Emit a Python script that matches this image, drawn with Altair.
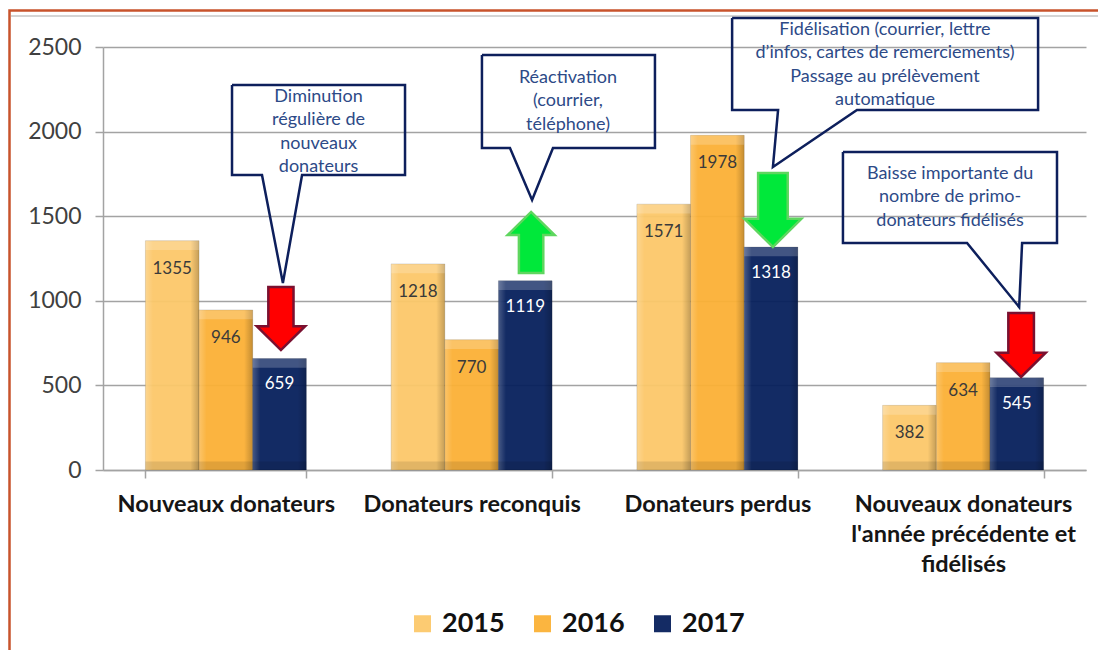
import altair as alt
import pandas as pd

FONT = "Lato"

categories = ["Nouveaux donateurs", "Donateurs reconquis", "Donateurs perdus",
              "Nouveaux donateurs|l'année précédente et|fidélisés"]
years = ["2015", "2016", "2017"]
v2015 = [1355, 1218, 1571, 382]
v2016 = [946, 770, 1978, 634]
v2017 = [659, 1119, 1318, 545]
year_colors = ["#fcc86a", "#fbb136", "#07205c"]

# callout annotations (x in category units 0..4, y in data units)
callout_texts = [
    "Diminution\nrégulière de\nnouveaux\ndonateurs",
    "Réactivation\n(courrier,\ntéléphone)",
    "Fidélisation (courrier, lettre\nd\u2019infos, cartes de remerciements)\nPassage au prélèvement\nautomatique",
    "Baisse importante du\nnombre de primo-\ndonateurs fidélisés",
]
text_u = [0.877, 1.892, 3.182, 3.447]
text_v = [2204, 2317, 2600, 1749]
box_x0 = [0.525, 1.542, 2.560, 3.011]
box_x1 = [1.229, 2.246, 3.805, 3.882]
box_top = [2275, 2453, 2671, 1879]
box_bot = [1743, 1903, 2128, 1342]
tail_l = [0.647, 1.656, 2.747, 3.516]
tail_r = [0.810, 1.831, 3.068, 3.740]
tip_u = [0.732, 1.746, 2.726, 3.728]
tip_v = [1105, 1596, 1791, 963]

arrow_u = [0.724, 1.742, 2.726, 3.736]
arrow_v = [895, 1345, 1537, 739]
arrow_dir = ["down", "up", "down", "down"]
arrow_h = [63, 61, 74, 64]
arrow_fill = ["#ff0000", "#00e83a", "#00e83a", "#ff0000"]
arrow_stroke = ["#7a1030", "#5fd65f", "#5fd65f", "#7a1030"]

# ---- tables ----
rows = []
for i, c in enumerate(categories):
    for y, vals in zip(years, [v2015, v2016, v2017]):
        rows.append({"cat": c, "year": y, "value": vals[i]})
df = pd.DataFrame(rows)

poly = []
for k in range(len(callout_texts)):
    pts = [(box_x0[k], box_top[k]), (box_x1[k], box_top[k]), (box_x1[k], box_bot[k]),
           (tail_r[k], box_bot[k]), (tip_u[k], tip_v[k]), (tail_l[k], box_bot[k]),
           (box_x0[k], box_bot[k]), (box_x0[k], box_top[k])]
    for j, (u, v) in enumerate(pts):
        poly.append({"id": k, "i": j, "u": u, "v": v})
poly_df = pd.DataFrame(poly)
txt_df = pd.DataFrame({"u": text_u, "v": text_v, "t": callout_texts})
arr_df = pd.DataFrame({"u": arrow_u, "v": arrow_v, "dir": arrow_dir,
                       "s": [h * h for h in arrow_h], "f": arrow_fill, "st": arrow_stroke})

DOWN = "M -0.4 -1 L 0.4 -1 L 0.4 0.24 L 0.77 0.24 L 0 1 L -0.77 0.24 L -0.4 0.24 Z"
UP = "M -0.4 1 L 0.4 1 L 0.4 -0.24 L 0.77 -0.24 L 0 -1 L -0.77 -0.24 L -0.4 -0.24 Z"

ydom = alt.Scale(domain=[0, 2500], nice=False)
grid_col = "#a3a3a3"
y_axis = alt.Axis(title=None, values=[0, 500, 1000, 1500, 2000, 2500], format="d",
                  labelFont=FONT, labelFontSize=23, labelColor="#404040",
                  labelPadding=14, tickSize=8, tickColor=grid_col, tickWidth=1.5,
                  domainColor=grid_col, domainWidth=1.5,
                  gridColor=grid_col, gridWidth=1.5)

x_enc = alt.X("cat:N", sort=categories,
              scale=alt.Scale(paddingInner=0.345, paddingOuter=0.1725),
              axis=alt.Axis(title=None, labelAngle=0, labelFont=FONT, labelFontSize=23.5,
                            labelFontWeight="bold", labelColor="#151515",
                            labelExpr="split(datum.label, '|')", labelLineHeight=30,
                            labelBaseline="top", labelPadding=14, labelLimit=0,
                            tickBand="extent", tickSize=8, tickColor=grid_col, tickWidth=1.5,
                            domainColor=grid_col, domainWidth=1.5, grid=False))
xo_enc = alt.XOffset("year:N", sort=years, scale=alt.Scale(paddingInner=0, paddingOuter=0))
y_enc = alt.Y("value:Q", scale=ydom, axis=y_axis)

base = alt.Chart(df).encode(x=x_enc, xOffset=xo_enc)

bars = base.mark_bar(opacity=0.95, stroke="#00000022", strokeWidth=1).encode(
    y=y_enc,
    color=alt.Color("year:N", sort=years,
                    scale=alt.Scale(domain=years, range=year_colors),
                    legend=alt.Legend(title=None, orient="none", legendX=306, legendY=563,
                                      direction="horizontal", symbolType="square",
                                      symbolSize=289, symbolStrokeWidth=0,
                                      labelFont=FONT, labelFontSize=27, labelFontWeight="bold",
                                      labelColor="#111111", labelOffset=6, columnPadding=24)),
)

side_grad = alt.Gradient(gradient="linear", x1=0, x2=1, y1=0, y2=0, stops=[
    alt.GradientStop(color="rgba(255,255,255,0.22)", offset=0),
    alt.GradientStop(color="rgba(255,255,255,0.0)", offset=0.14),
    alt.GradientStop(color="rgba(0,0,0,0.0)", offset=0.84),
    alt.GradientStop(color="rgba(0,0,0,0.22)", offset=1),
])
bevel_side = base.mark_bar(fill=side_grad).encode(y=alt.Y("value:Q", scale=ydom, axis=y_axis))
bevel_top = base.transform_calculate(vt="datum.value - 55").mark_bar(
    color="white", opacity=0.2).encode(
    y=alt.Y("value:Q", scale=ydom, axis=y_axis), y2="vt:Q")
bevel_bot = base.transform_calculate(vb="50").mark_bar(
    color="black", opacity=0.1).encode(
    y=alt.Y("vb:Q", scale=ydom, axis=y_axis), y2=alt.Y2(datum=0))

lab_dark = base.transform_filter("datum.year != '2017'").mark_text(
    font=FONT, fontSize=17, color="#3a3a3a", baseline="middle", dy=28).encode(
    y=alt.Y("value:Q", scale=ydom, axis=y_axis), text="value:Q")
lab_light = base.transform_filter("datum.year == '2017'").mark_text(
    font=FONT, fontSize=17, color="white", baseline="middle", dy=26).encode(
    y=alt.Y("value:Q", scale=ydom, axis=y_axis), text="value:Q")

bar_layer = alt.layer(bars, bevel_side, bevel_top, bevel_bot, lab_dark, lab_light)

ux = alt.X("u:Q", scale=alt.Scale(domain=[0, 4], nice=False, zero=False), axis=None)
vy = alt.Y("v:Q", scale=ydom, axis=y_axis)

frame = alt.Chart(pd.DataFrame({"a": [0]})).mark_rect(
    fill="transparent", stroke="#c8532c", strokeWidth=2.5).encode(
    x=alt.value(-93.5), x2=alt.value(1010), y=alt.value(-36.5), y2=alt.value(700))
inner_line = alt.Chart(pd.DataFrame({"a": [0]})).mark_rule(
    color="#d4d4d4", strokeWidth=2).encode(
    x=alt.value(-92), x2=alt.value(1010), y=alt.value(-31))

callout_lines = alt.Chart(poly_df).mark_line(
    color="#0d1f5c", strokeWidth=2.5, strokeJoin="miter").encode(
    x=ux, y=vy, order="i:Q", detail="id:N")
callout_text = alt.Chart(txt_df).mark_text(
    font=FONT, fontSize=18, color="#2d4a87", lineBreak="\n", lineHeight=23.3,
    baseline="middle", align="center").encode(x=ux, y=vy, text="t:N")

arrows = []
for d, path in [("down", DOWN), ("up", UP)]:
    arrows.append(alt.Chart(arr_df).transform_filter(f"datum.dir == '{d}'").mark_point(
        shape=path, filled=True, strokeWidth=2.5, opacity=1).encode(
        x=ux, y=vy, size=alt.Size("s:Q", scale=None),
        fill=alt.Fill("f:N", scale=None), stroke=alt.Stroke("st:N", scale=None)))

ann_layer = alt.layer(frame, inner_line, callout_lines, callout_text, *arrows)

chart = alt.layer(bar_layer, ann_layer).resolve_scale(x="independent").properties(
    width=983, height=423,
    autosize=alt.AutoSizeParams(type="none"),
    padding={"left": 95, "top": 39, "right": 12, "bottom": 180},
    background="white",
).configure_view(stroke=None)

chart.save("out.html", embed_options={"renderer": "svg", "actions": False})
